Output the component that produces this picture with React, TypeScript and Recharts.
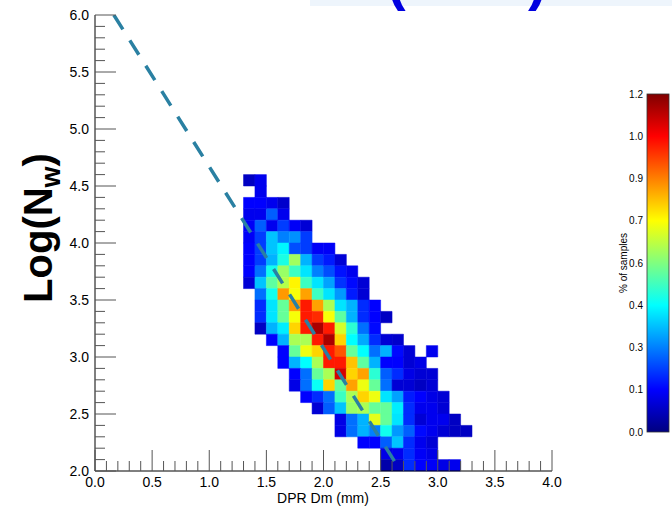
import React from 'react';
import { ComposedChart, XAxis, YAxis, Line, ReferenceArea } from 'recharts';

// lower edges of the 0.1-wide bins
const dmLower = [1.3, 1.4, 1.5, 1.6, 1.7, 1.8, 1.9, 2.0, 2.1, 2.2, 2.3, 2.4, 2.5, 2.6, 2.7, 2.8, 2.9, 3.0, 3.1, 3.2];
const nwLower = [4.5, 4.4, 4.3, 4.2, 4.1, 4.0, 3.9, 3.8, 3.7, 3.6, 3.5, 3.4, 3.3, 3.2, 3.1, 3.0, 2.9, 2.8, 2.7, 2.6, 2.5, 2.4, 2.3, 2.2, 2.1, 2.0];

const _ = null;
// % of samples, one row per nwLower, one column per dmLower
const samplePct: (number | null)[][] = [
  [.08, .13, _, _, _, _, _, _, _, _, _, _, _, _, _, _, _, _, _, _],
  [_, .13, _, _, _, _, _, _, _, _, _, _, _, _, _, _, _, _, _, _],
  [.15, .15, .13, .09, _, _, _, _, _, _, _, _, _, _, _, _, _, _, _, _],
  [.13, .13, .26, .13, _, _, _, _, _, _, _, _, _, _, _, _, _, _, _, _],
  [.14, .26, .13, .22, .14, .10, _, _, _, _, _, _, _, _, _, _, _, _, _, _],
  [.14, .22, .38, .30, .32, .22, _, _, _, _, _, _, _, _, _, _, _, _, _, _],
  [.15, .22, .38, .44, .24, .22, .14, .14, _, _, _, _, _, _, _, _, _, _, _, _],
  [.15, .22, .36, .48, .64, .36, .22, .18, .10, _, _, _, _, _, _, _, _, _, _, _],
  [.15, .28, .47, .63, .52, .42, .30, .24, .17, .13, _, _, _, _, _, _, _, _, _, _],
  [.10, .38, .56, .66, .76, .52, .42, .34, .21, .16, .10, _, _, _, _, _, _, _, _, _],
  [_, .28, .47, .87, .74, .86, .52, .42, .33, .18, .10, _, _, _, _, _, _, _, _, _],
  [_, .20, .42, .57, .87, 1.02, .86, .65, .42, .36, .20, .15, _, _, _, _, _, _, _, _],
  [_, .20, .42, .57, .74, 1.02, 1.0, .74, .56, .36, .20, .15, .08, _, _, _, _, _, _, _],
  [_, .08, .36, .43, .80, 1.02, 1.15, 1.02, .70, .50, .28, .16, _, _, _, _, _, _, _, _],
  [_, _, .15, .36, .65, .65, 1.02, 1.15, .80, .45, .35, .20, .10, .09, _, _, _, _, _, _],
  [_, _, _, .15, .57, .73, .80, 1.02, .95, .57, .45, .28, .36, .16, .10, _, .13, _, _, _],
  [_, _, _, .15, .36, .45, .65, 1.02, 1.02, .82, .56, .36, .15, .15, .10, .12, _, _, _, _],
  [_, _, _, _, .15, .28, .57, .65, 1.10, .80, .86, .50, .26, .20, .12, .10, .10, _, _, _],
  [_, _, _, _, .12, .28, .46, .80, .57, .86, .73, .57, .28, .10, .10, .08, .10, _, _, _],
  [_, _, _, _, _, .15, .20, .28, .52, .65, .80, .73, .42, .34, .18, .15, .12, .10, _, _],
  [_, _, _, _, _, _, .10, .26, .38, .63, .65, .57, .57, .43, .20, .13, .13, .10, _, _],
  [_, _, _, _, _, _, _, _, .12, .28, .36, .72, .57, .42, .20, .10, .13, .13, .08, _],
  [_, _, _, _, _, _, _, _, .12, .28, .36, .30, .47, .33, .26, .16, .13, .10, .08, .08],
  [_, _, _, _, _, _, _, _, _, _, .15, .15, .26, .38, .20, .13, .10, _, _, _],
  [_, _, _, _, _, _, _, _, _, _, _, _, .12, .13, .20, .14, .12, _, _, _],
  [_, _, _, _, _, _, _, _, _, _, _, _, .05, .08, .20, .15, .14, .12, .13, _],
];

// dashed fit line end points
const fitDm = [0.165, 2.675];
const fitNw = [6.0, 2.0];

const xMajor = [0, 0.5, 1.0, 1.5, 2.0, 2.5, 3.0, 3.5, 4.0];
const yMajor = [2.0, 2.5, 3.0, 3.5, 4.0, 4.5, 5.0, 5.5, 6.0];
const cbLabels = ['0.0', '0.1', '0.3', '0.4', '0.6', '0.7', '0.9', '1.0', '1.2'];
const cbMax = 1.2;

const binSize = 0.1;
const FONT = '"Liberation Sans", Arial, Helvetica, sans-serif';
const TICK = '#555';

// minor ticks every 0.1 between the majors
const withMinors = (majors: number[]) => {
  const out: number[] = [];
  for (let i = 0; i < majors.length - 1; i++) {
    for (let k = 0; k < 5; k++) out.push(+(majors[i] + k * 0.1).toFixed(1));
  }
  out.push(majors[majors.length - 1]);
  return out;
};
const xTicks = withMinors(xMajor);
const yTicks = withMinors(yMajor);
const isMajor = (v: number) => Math.abs(v * 2 - Math.round(v * 2)) < 1e-6;

const jet = (v: number) => {
  const t = Math.min(1, Math.max(0, v / cbMax));
  const c = (s: number) => Math.round(255 * Math.min(1, Math.max(0, 1.5 - Math.abs(4 * t - s))));
  return `rgb(${c(3)},${c(2)},${c(1)})`;
};

const fitData = fitDm.map((dm, i) => ({ dm, nw: fitNw[i] }));

const BottomTick = ({ x, y, payload }: any) => {
  const major = isMajor(payload.value);
  return (
    <g>
      <line x1={x} x2={x} y1={y} y2={y - (major ? 21 : 10)} stroke={TICK} />
      {major && (
        <text x={x} y={y + 16} textAnchor="middle" fontSize={14} fill="#000" fontFamily={FONT}>
          {payload.value.toFixed(1)}
        </text>
      )}
    </g>
  );
};
const TopTick = ({ x, y, payload }: any) => {
  const major = isMajor(payload.value);
  return <line x1={x} x2={x} y1={y} y2={y + (major ? 21 : 10)} stroke={TICK} />;
};
const LeftTick = ({ x, y, payload }: any) => {
  const major = isMajor(payload.value);
  return (
    <g>
      <line x1={x} x2={x + (major ? 21 : 10)} y1={y} y2={y} stroke={TICK} />
      {major && (
        <text x={x - 6} y={y + 5} textAnchor="end" fontSize={14} fill="#000" fontFamily={FONT}>
          {payload.value.toFixed(1)}
        </text>
      )}
    </g>
  );
};
const RightTick = ({ x, y, payload }: any) => {
  const major = isMajor(payload.value);
  return <line x1={x} x2={x - (major ? 21 : 10)} y1={y} y2={y} stroke={TICK} />;
};

export default function App() {
  const cells: React.ReactNode[] = [];
  samplePct.forEach((row, r) => {
    row.forEach((v, c) => {
      if (v == null) return;
      cells.push(
        <ReferenceArea
          key={`c-${r}-${c}`}
          x1={dmLower[c]}
          x2={dmLower[c] + binSize}
          y1={nwLower[r]}
          y2={nwLower[r] + binSize}
          fill={jet(v)}
          fillOpacity={1}
          stroke={jet(v)}
          strokeWidth={0.5}
        />
      );
    });
  });

  const cbTop = 94;
  const cbBottom = 432;
  const cbX = 647;
  const cbW = 22;

  return (
    <div style={{ position: 'absolute', left: 0, top: 0, width: 672, height: 509, background: '#fff', fontFamily: FONT }}>
      <ComposedChart width={672} height={509} margin={{ top: 15, right: 120, bottom: 0, left: 0 }}>
        <XAxis
          type="number"
          dataKey="dm"
          domain={[0, 4]}
          ticks={xTicks}
          interval={0}
          height={38}
          tickSize={0}
          tickMargin={0}
          tickLine={false}
          axisLine={{ stroke: '#000' }}
          tick={<BottomTick />}
          allowDataOverflow
        />
        <XAxis
          xAxisId="top"
          orientation="top"
          type="number"
          dataKey="dm"
          domain={[0, 4]}
          ticks={xTicks}
          interval={0}
          height={0}
          tickSize={0}
          tickMargin={0}
          tickLine={false}
          axisLine={{ stroke: '#000' }}
          tick={<TopTick />}
          allowDataOverflow
        />
        <YAxis
          type="number"
          domain={[2, 6]}
          ticks={yTicks}
          interval={0}
          width={95}
          tickSize={0}
          tickMargin={0}
          tickLine={false}
          axisLine={{ stroke: '#000' }}
          tick={<LeftTick />}
          allowDataOverflow
        />
        <YAxis
          yAxisId="right"
          orientation="right"
          type="number"
          domain={[2, 6]}
          ticks={yTicks}
          interval={0}
          width={0}
          tickSize={0}
          tickMargin={0}
          tickLine={false}
          axisLine={{ stroke: '#000' }}
          tick={<RightTick />}
          allowDataOverflow
        />
        {cells}
        <Line
          data={fitData}
          dataKey="nw"
          type="linear"
          stroke="#2a80a2"
          strokeWidth={3.5}
          strokeDasharray="17 13"
          dot={false}
          activeDot={false}
          isAnimationActive={false}
        />
      </ComposedChart>

      <svg width={672} height={509} style={{ position: 'absolute', left: 0, top: 0, pointerEvents: 'none' }}>
        <defs>
          <linearGradient id="jetGrad" x1="0" y1="1" x2="0" y2="0">
            <stop offset="0" stopColor="#000080" />
            <stop offset="0.125" stopColor="#0000ff" />
            <stop offset="0.375" stopColor="#00ffff" />
            <stop offset="0.625" stopColor="#ffff00" />
            <stop offset="0.875" stopColor="#ff0000" />
            <stop offset="1" stopColor="#800000" />
          </linearGradient>
        </defs>
        {/* remains of a title that sits above the figure */}
        <rect x={310} y={0} width={362} height={6} fill="#eef5fc" />
        <text x={387} y={-1} fontSize={56} fontWeight="bold" fill="#0000e0" fontFamily={FONT}>(</text>
        <text x={528} y={-1} fontSize={56} fontWeight="bold" fill="#0000e0" fontFamily={FONT}>)</text>

        <text
          transform="rotate(-90, 52, 228)"
          x={52}
          y={228}
          textAnchor="middle"
          fontSize={40}
          fontWeight="bold"
          fill="#000"
          fontFamily={FONT}
        >
          Log(N<tspan fontSize={27} dy={8}>w</tspan><tspan dy={-8}>)</tspan>
        </text>
        <text x={323} y={503} textAnchor="middle" fontSize={14} fill="#000" fontFamily={FONT}>
          DPR Dm (mm)
        </text>

        <rect x={cbX} y={cbTop} width={cbW} height={cbBottom - cbTop} fill="url(#jetGrad)" stroke="#333" strokeWidth={0.8} />
        {cbLabels.map((lab, i) => {
          const yy = cbBottom - (i * (cbBottom - cbTop)) / (cbLabels.length - 1);
          return (
            <text key={lab + i} x={cbX - 4} y={yy + 3.5} textAnchor="end" fontSize={10} fill="#000" fontFamily={FONT}>
              {lab}
            </text>
          );
        })}
        <text
          transform={`rotate(-90, 627, ${(cbTop + cbBottom) / 2})`}
          x={627}
          y={(cbTop + cbBottom) / 2}
          textAnchor="middle"
          fontSize={10}
          fill="#000"
          fontFamily={FONT}
        >
          % of samples
        </text>
      </svg>
    </div>
  );
}
